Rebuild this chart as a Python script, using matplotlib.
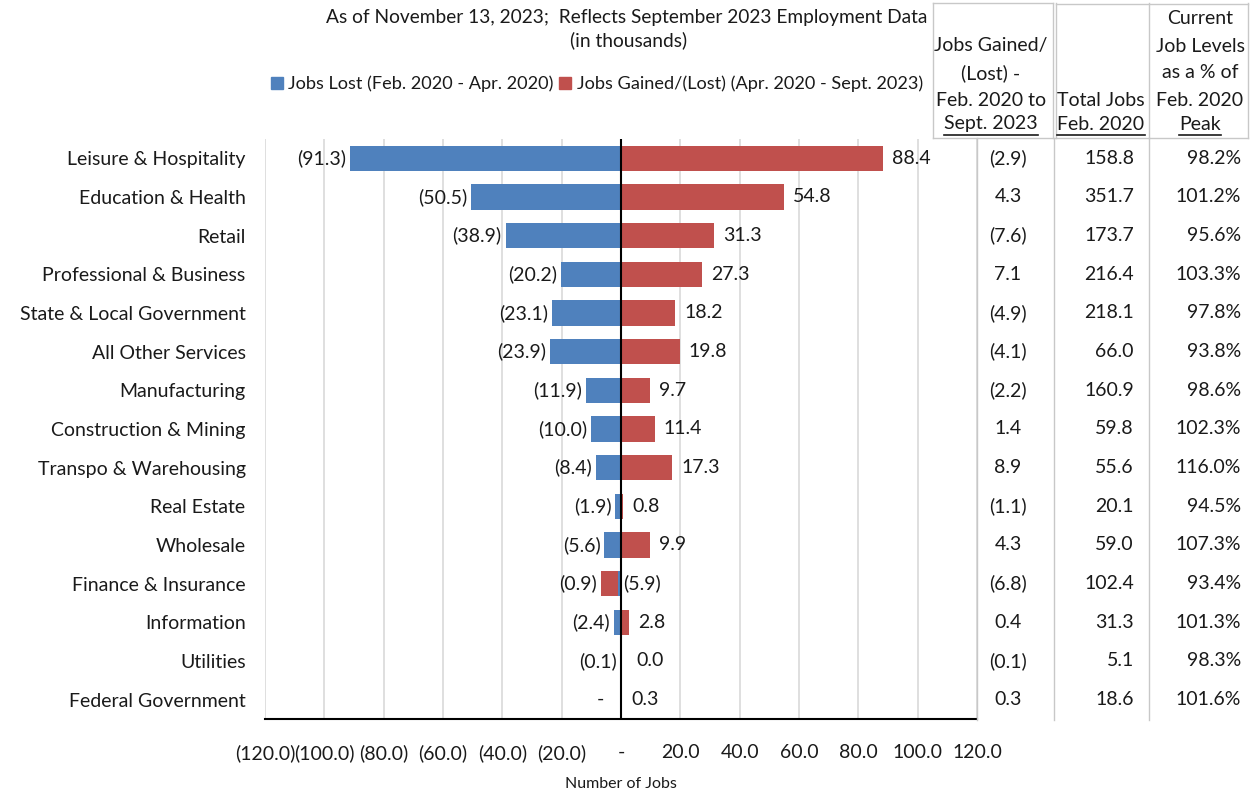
import matplotlib
matplotlib.use("Agg")
import matplotlib.pyplot as plt
import matplotlib.transforms as mtransforms
from matplotlib.lines import Line2D
from matplotlib.patches import Patch

plt.rcParams['font.family'] = ['Lato', 'DejaVu Sans']

categories = ["Leisure & Hospitality", "Education & Health", "Retail",
              "Professional & Business", "State & Local Government",
              "All Other Services", "Manufacturing", "Construction & Mining",
              "Transpo & Warehousing", "Real Estate", "Wholesale",
              "Finance & Insurance", "Information", "Utilities",
              "Federal Government"]
jobs_lost = [-91.3, -50.5, -38.9, -20.2, -23.1, -23.9, -11.9, -10.0, -8.4,
             -1.9, -5.6, -0.9, -2.4, -0.1, 0.0]
jobs_gained = [88.4, 54.8, 31.3, 27.3, 18.2, 19.8, 9.7, 11.4, 17.3,
               0.8, 9.9, -5.9, 2.8, 0.0, 0.3]
net_change = [-2.9, 4.3, -7.6, 7.1, -4.9, -4.1, -2.2, 1.4, 8.9, -1.1, 4.3,
              -6.8, 0.4, -0.1, 0.3]
total_feb2020 = [158.8, 351.7, 173.7, 216.4, 218.1, 66.0, 160.9, 59.8, 55.6,
                 20.1, 59.0, 102.4, 31.3, 5.1, 18.6]
pct_of_peak = [98.2, 101.2, 95.6, 103.3, 97.8, 93.8, 98.6, 102.3, 116.0,
               94.5, 107.3, 93.4, 101.3, 98.3, 101.6]
x_ticks = [-120, -100, -80, -60, -40, -20, 0, 20, 40, 60, 80, 100, 120]

BLUE = "#4F81BD"
RED = "#C0504D"
GRID = "#D9D9D9"
TBL = "#C8C8C8"
TXT = "#1a1a1a"
FS = 14.0

W, H = 1253, 792
fig = plt.figure(figsize=(W / 100, H / 100), dpi=100)
ax = fig.add_axes([265 / W, 1 - 719 / H, (977 - 265) / W, (719 - 139) / H])


def acct(v):
    if v == 0:
        return "-"
    if v < 0:
        return "(%.1f)" % abs(v)
    return "%.1f" % v


n = len(categories)
y = list(range(n))
left_red = [(l if g < 0 else 0) for l, g in zip(jobs_lost, jobs_gained)]
ax.barh(y, jobs_lost, height=0.65, color=BLUE, zorder=2)
ax.barh(y, jobs_gained, left=left_red, height=0.65, color=RED, zorder=2)

ax.set_xlim(-120, 120)
ax.set_ylim(n - 0.5, -0.5)
ax.set_yticks(y)
ax.set_yticklabels(categories, fontsize=FS, color=TXT)
ax.set_xticks(x_ticks)
ax.set_xticklabels([acct(v) for v in x_ticks], fontsize=FS, color=TXT)
ax.tick_params(axis='both', length=0)
ax.tick_params(axis='y', pad=14)
ax.tick_params(axis='x', pad=18)
ax.grid(axis='x', color=GRID, linewidth=1.2, zorder=0)
ax.set_axisbelow(True)
for s in ['top', 'right', 'left']:
    ax.spines[s].set_visible(False)
ax.spines['bottom'].set_color('black')
ax.spines['bottom'].set_linewidth(1.5)
ax.axvline(0, color='black', linewidth=1.5, zorder=3)
ax.set_xlabel("Number of Jobs", fontsize=11.5, color=TXT, labelpad=11)

# data labels
for i in range(n):
    lo = jobs_lost[i]
    g = jobs_gained[i]
    end_left = lo + min(g, 0)
    if lo == 0:
        ax.annotate("-", (0, i), xytext=(-21, 0), textcoords='offset pixels',
                    ha='center', va='center', fontsize=FS, color=TXT)
    else:
        ax.annotate(acct(lo), (end_left, i), xytext=(-4, 0), textcoords='offset pixels',
                    ha='right', va='center', fontsize=FS, color=TXT)
    if g < 0:
        ax.annotate(acct(g), (0, i), xytext=(2, 0), textcoords='offset pixels',
                    ha='left', va='center', fontsize=FS, color=TXT)
    else:
        off = 15 if g == 0 else 9
        ax.annotate("%.1f" % g, (g, i), xytext=(off, 0), textcoords='offset pixels',
                    ha='left', va='center', fontsize=FS, color=TXT)

# titles
fig.text(627 / W, 1 - 17 / H, "As of November 13, 2023;  Reflects September 2023 Employment Data",
         ha='center', va='center', fontsize=13.8, color=TXT)
fig.text(629 / W, 1 - 40 / H, "(in thousands)", ha='center', va='center',
         fontsize=13.8, color=TXT)

handles = [Patch(color=BLUE, label="Jobs Lost (Feb. 2020 - Apr. 2020)"),
           Patch(color=RED, label="Jobs Gained/(Lost) (Apr. 2020 - Sept. 2023)")]
fig.legend(handles=handles, loc='center', bbox_to_anchor=(597 / W, 1 - 84 / H),
           ncol=2, frameon=False, fontsize=13.1, handlelength=0.65, handleheight=0.65,
           handletextpad=0.3, columnspacing=0.3, labelcolor=TXT)

# table
bt = mtransforms.blended_transform_factory(fig.transFigure, ax.transData)
for i in range(n):
    fig.text(1008 / W, i, acct(net_change[i]), transform=bt, ha='center', va='center',
             fontsize=FS, color=TXT)
    fig.text(1134 / W, i, "%.1f" % total_feb2020[i], transform=bt, ha='right', va='center',
             fontsize=FS, color=TXT)
    fig.text(1241 / W, i, "%.1f%%" % pct_of_peak[i], transform=bt, ha='right', va='center',
             fontsize=FS, color=TXT)


def fl(x0, y0, x1, y1, **kw):
    fig.add_artist(Line2D([x0 / W, x1 / W], [1 - y0 / H, 1 - y1 / H],
                          transform=fig.transFigure, **kw))


for xx in [977, 1054, 1149]:
    fl(xx, 138, xx, 720, color=TBL, linewidth=1.0)
# header boxes
fl(933, 3, 1053, 3, color=TBL, linewidth=1.0)
fl(1056, 4, 1248, 4, color=TBL, linewidth=1.0)
fl(933, 138, 1248, 138, color=TBL, linewidth=1.0)
for xx in [933, 1053, 1056, 1149, 1248]:
    fl(xx, 3, xx, 138, color=TBL, linewidth=1.0)

headers = [
    (991, ["Jobs Gained/", "(Lost) -", "Feb. 2020 to", "Sept. 2023"]),
    (1101, ["Total Jobs", "Feb. 2020"]),
    (1200, ["Current", "Job Levels", "as a % of", "Feb. 2020", "Peak"]),
]
line_y = [19, 46, 73, 100, 124]
under = []
for xc, lines in headers:
    ys = line_y[-len(lines):]
    for k, (txt, yy) in enumerate(zip(lines, ys)):
        t = fig.text(xc / W, 1 - yy / H, txt, ha='center', va='center',
                     fontsize=FS, color=TXT)
        if k == len(lines) - 1:
            under.append(t)

fig.canvas.draw()
r = fig.canvas.get_renderer()
for t in under:
    bb = t.get_window_extent(r)
    fl(bb.x0, 135, bb.x1, 135, color=TXT, linewidth=1.2)

fig.savefig("out.png", dpi=100)
